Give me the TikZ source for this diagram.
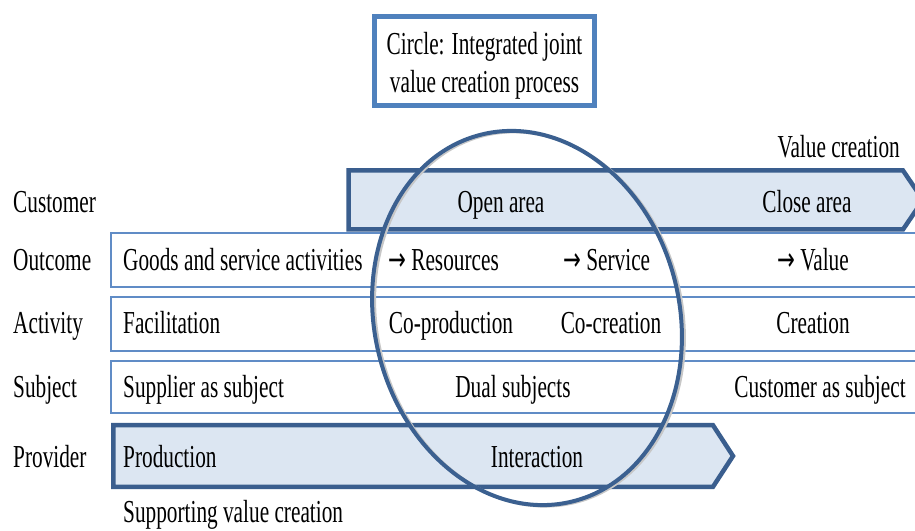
\documentclass[tikz,border=0pt]{standalone}
\usepackage{fontspec}
\setmainfont[FakeStretch=0.665]{Liberation Serif}
\newfontfamily\arrowfont[FakeStretch=0.665]{DejaVu Sans}
\usetikzlibrary{shapes.geometric}
\definecolor{boxblue}{RGB}{79,129,189}
\definecolor{rowblue}{RGB}{96,140,198}
\definecolor{bandfill}{RGB}{220,230,242}
\definecolor{bandline}{RGB}{58,94,142}
\definecolor{ringblue}{RGB}{59,96,144}

\begin{document}
\begin{tikzpicture}[x=1pt,y=1pt,font=\fontsize{32}{38}\selectfont]
  \tikzset{every node/.style={inner sep=0pt}}
  \tikzset{rowbox/.style={draw=rowblue,line width=1.3pt}}
  \tikzset{band/.style={draw=bandline,fill=bandfill,line width=4.5pt,line join=miter}}
  \tikzset{titlebox/.style={draw=boxblue,line width=4.5pt,minimum width=220,minimum height=89}}
  \tikzset{ring/.style={ellipse,minimum width=305,minimum height=378,rotate=14}}
  \tikzset{lft/.style={anchor=base west}, mid/.style={anchor=base}}

  \clip (0,0) rectangle (915,530);

  \draw[rowbox] (111,297) rectangle (930,243);
  \draw[rowbox] (111,233) rectangle (930,179);
  \draw[rowbox] (111,169) rectangle (930,117);

  \draw[band] (348.5,359.5) -- (903,359.5) -- (923,330) -- (903,300.5) -- (348.5,300.5) -- cycle;
  \draw[band] (113.25,104.75) -- (713,104.75) -- (733,74) -- (713,43.25) -- (113.25,43.25) -- cycle;

  \node[titlebox] (ttl) at (484.5,469) {};
  \node[mid] (ttl1) at (484.5,475) {Circle: Integrated joint};
  \node[mid] (ttl2) at (484.5,437) {value creation process};
  \node[anchor=base east] (vc) at (900,372) {Value creation};

  \node[lft] (cus) at (13,317) {Customer};
  \node[lft] (out) at (13,259) {Outcome};
  \node[lft] (act) at (13,196) {Activity};
  \node[lft] (sub) at (13,132) {Subject};
  \node[lft] (pro) at (13,63) {Provider};

  \node[mid] (open) at (501,317) {Open area};
  \node[mid] (close) at (807,317) {Close area};

  \node[lft] (goods) at (123,259) {Goods and service activities};
  \node[lft] (res) at (388,259) {{\arrowfont →} Resources};
  \node[lft] (serv) at (563,259) {{\arrowfont →} Service};
  \node[mid] (val) at (813,259) {{\arrowfont →} Value};

  \node[lft] (fac) at (123,196) {Facilitation};
  \node[mid] (coprod) at (451,196) {Co-production};
  \node[mid] (cocre) at (611,196) {Co-creation};
  \node[mid] (cre) at (813,196) {Creation};

  \node[lft] (sup) at (123,132) {Supplier as subject};
  \node[mid] (dual) at (513,132) {Dual subjects};
  \node[mid] (cust) at (820,132) {Customer as subject};

  \node[lft] (prod) at (123,63) {Production};
  \node[mid] (inter) at (537,63) {Interaction};
  \node[lft] (supp) at (123,7.5) {Supporting value creation};

  \node[ring,draw=black!22,line width=3pt] (shade) at (529.5,211) {};
  \node[ring,draw=ringblue,line width=4pt] (joint) at (527,212) {};
\end{tikzpicture}
\end{document}
